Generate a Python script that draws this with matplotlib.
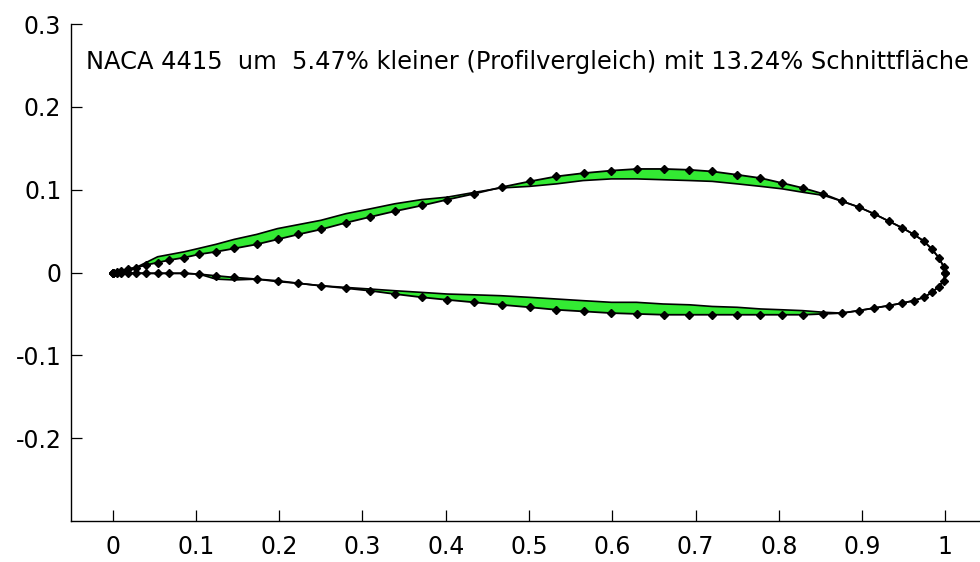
import numpy as np
import matplotlib as mpl
import matplotlib.pyplot as plt

mpl.rcParams['axes.unicode_minus'] = False
mpl.rcParams['font.family'] = ['DejaVu Sans']

# NACA 4415 contour (with markers), trailing edge at x=0
x_naca = [0.000, 0.001, 0.005, 0.010, 0.018, 0.028, 0.040, 0.054, 0.068, 0.086,
          0.104, 0.124, 0.146, 0.173, 0.198, 0.223, 0.250, 0.280, 0.309, 0.339,
          0.372, 0.402, 0.434, 0.467, 0.501, 0.533, 0.566, 0.599, 0.630, 0.662,
          0.692, 0.720, 0.750, 0.778, 0.804, 0.829, 0.853, 0.876, 0.896, 0.914,
          0.932, 0.948, 0.962, 0.974, 0.984, 0.992, 0.998, 1.000]
y_naca_up = [0.000, 0.000, 0.001, 0.002, 0.004, 0.006, 0.009, 0.012, 0.015, 0.018,
             0.022, 0.025, 0.029, 0.034, 0.040, 0.046, 0.052, 0.060, 0.067, 0.074,
             0.081, 0.088, 0.095, 0.103, 0.110, 0.116, 0.120, 0.123, 0.125, 0.125,
             0.124, 0.122, 0.118, 0.114, 0.108, 0.102, 0.095, 0.086, 0.079, 0.071,
             0.062, 0.054, 0.046, 0.038, 0.028, 0.018, 0.007, 0.000]
y_naca_lo = [0.000, 0.000, -0.001, -0.001, -0.001, -0.001, -0.001, -0.001, -0.001, -0.001,
             -0.002, -0.004, -0.006, -0.008, -0.010, -0.013, -0.016, -0.019, -0.022, -0.026,
             -0.030, -0.033, -0.036, -0.039, -0.042, -0.045, -0.047, -0.049, -0.050, -0.051,
             -0.051, -0.051, -0.051, -0.051, -0.051, -0.051, -0.050, -0.049, -0.046, -0.043,
             -0.040, -0.037, -0.034, -0.030, -0.024, -0.017, -0.010, 0.000]

# comparison profile (5.47 % smaller)
x_cmp_up = [0.000, 0.028, 0.054, 0.086, 0.103, 0.124, 0.146, 0.173, 0.198, 0.250,
            0.280, 0.310, 0.339, 0.371, 0.402, 0.436, 0.466, 0.501, 0.533, 0.565,
            0.599, 0.629, 0.661, 0.693, 0.720, 0.750, 0.778, 0.804, 0.828, 0.854,
            0.876, 0.896, 0.914, 0.932, 0.948, 0.962, 0.974, 0.984, 0.992, 0.998, 1.000]
y_cmp_up = [0.000, 0.006, 0.019, 0.025, 0.029, 0.034, 0.040, 0.046, 0.053, 0.063,
            0.071, 0.077, 0.083, 0.088, 0.091, 0.097, 0.102, 0.104, 0.107, 0.111,
            0.113, 0.113, 0.112, 0.111, 0.110, 0.107, 0.104, 0.101, 0.097, 0.093,
            0.086, 0.079, 0.071, 0.062, 0.054, 0.046, 0.038, 0.028, 0.018, 0.007, 0.000]
x_cmp_lo = [0.000, 0.040, 0.086, 0.104, 0.124, 0.146, 0.173, 0.198, 0.223, 0.250,
            0.280, 0.310, 0.339, 0.371, 0.402, 0.436, 0.466, 0.501, 0.533, 0.565,
            0.599, 0.629, 0.661, 0.693, 0.720, 0.750, 0.778, 0.804, 0.828, 0.854,
            0.876, 0.896, 0.914, 0.932, 0.948, 0.962, 0.974, 0.984, 0.992, 0.998, 1.000]
y_cmp_lo = [0.000, -0.001, -0.001, -0.002, -0.008, -0.009, -0.008, -0.011, -0.013, -0.016,
            -0.018, -0.020, -0.022, -0.024, -0.026, -0.027, -0.028, -0.030, -0.032, -0.034,
            -0.036, -0.036, -0.038, -0.039, -0.041, -0.042, -0.044, -0.045, -0.046, -0.048,
            -0.049, -0.046, -0.043, -0.040, -0.037, -0.034, -0.030, -0.024, -0.017, -0.010, 0.000]

title = 'NACA 4415  um  5.47% kleiner (Profilvergleich) mit 13.24% Schnittfläche'
xticks = [0, 0.1, 0.2, 0.3, 0.4, 0.5, 0.6, 0.7, 0.8, 0.9, 1]
xticklabels = ['0', '0.1', '0.2', '0.3', '0.4', '0.5', '0.6', '0.7', '0.8', '0.9', '1']
yticks = [-0.2, -0.1, 0, 0.1, 0.2, 0.3]
yticklabels = ['-0.2', '-0.1', '0', '0.1', '0.2', '0.3']

fig = plt.figure(figsize=(9.8, 5.62), dpi=100)
ax = fig.add_axes([71/980, 41/562, 916/980, 497/562])

green = '#33ea33'
# difference area between the two contours
for xa, ya, xb, yb in [(x_naca, y_naca_up, x_cmp_up, y_cmp_up),
                       (x_naca, y_naca_lo, x_cmp_lo, y_cmp_lo)]:
    px = np.concatenate([xa, xb[::-1]])
    py = np.concatenate([ya, yb[::-1]])
    ax.fill(px, py, color=green, linewidth=0)

ax.plot(x_cmp_up, y_cmp_up, color='k', linewidth=1.2)
ax.plot(x_cmp_lo, y_cmp_lo, color='k', linewidth=1.2)
for yy in (y_naca_up, y_naca_lo):
    ax.plot(x_naca, yy, color='k', linewidth=1.3, marker='D', markersize=4.2,
            markerfacecolor='k', markeredgecolor='k')

ax.text(-0.032, 0.254, title, fontsize=17.4, ha='left', va='center')

ax.set_xlim(-0.05, 1.05)
ax.set_ylim(-0.3, 0.3)
ax.set_xticks(xticks)
ax.set_xticklabels(xticklabels)
ax.set_yticks(yticks)
ax.set_yticklabels(yticklabels)
ax.tick_params(direction='in', length=8, width=0.9, labelsize=17, colors='k')
ax.tick_params(axis='x', pad=10)
ax.tick_params(axis='y', pad=7)
for s in ['top', 'right']:
    ax.spines[s].set_visible(False)
for s in ['left', 'bottom']:
    ax.spines[s].set_linewidth(1.0)

plt.savefig('out.png', dpi=100)
